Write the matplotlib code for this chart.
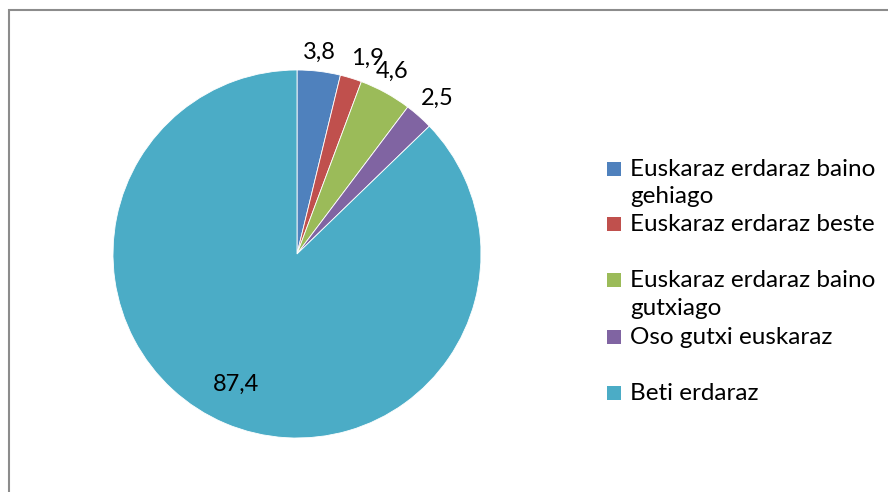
import matplotlib
matplotlib.use("Agg")
import matplotlib.pyplot as plt
from matplotlib.patches import Rectangle
import numpy as np

labels = ["Euskaraz erdaraz baino\ngehiago", "Euskaraz erdaraz beste",
          "Euskaraz erdaraz baino\ngutxiago", "Oso gutxi euskaraz", "Beti erdaraz"]
values = [3.8, 1.9, 4.6, 2.5, 87.4]
value_texts = ["3,8", "1,9", "4,6", "2,5", "87,4"]
colors = ["#4F81BD", "#C0504D", "#9BBB59", "#8064A2", "#4BACC6"]

W, H = 888, 492
plt.rcParams['font.family'] = ['Lato', 'DejaVu Sans']
fig = plt.figure(figsize=(W / 100, H / 100), dpi=100)

# border (top-left visible, rest cropped)
fig.patches.append(Rectangle((9 / W, -0.1), 1.2, 1 - 10 / H + 0.1, transform=fig.transFigure,
                             fill=False, edgecolor="#8c8c8c", linewidth=1.5))

cx, cy, r = 297, 254, 184
ax = fig.add_axes([(cx - r) / W, (H - cy - r) / H, 2 * r / W, 2 * r / H])
wedges, _ = ax.pie(values, colors=colors, startangle=90, counterclock=False,
                   wedgeprops=dict(edgecolor="white", linewidth=0.6))
ax.set_xlim(-1, 1)
ax.set_ylim(-1, 1)
ax.set_aspect("equal")
ax.axis("off")

dists = [1.10, 1.13, 1.12, 1.14, 0.78]
angle_adj = [0.6, -2.6, 1.1, -0.5, -2.1]
for w, t, d, a in zip(wedges, value_texts, dists, angle_adj):
    ang = np.deg2rad((w.theta1 + w.theta2) / 2 + a)
    ax.text(d * np.cos(ang), d * np.sin(ang), t, ha="center", va="center",
            fontsize=17, color="black", clip_on=False)

# legend
square_x = 607
text_x = 630
baselines = [175.7, 230.7, 287.3, 344, 400]
line_gap = 27.5
sq = 14
for lab, col, b in zip(labels, colors, baselines):
    fig.patches.append(Rectangle((square_x / W, (H - b) / H), sq / W, sq / H,
                                 transform=fig.transFigure, facecolor=col, edgecolor="none"))
    for i, line in enumerate(lab.split("\n")):
        fig.text(text_x / W, (H - (b + i * line_gap)) / H, line, ha="left", va="baseline",
                 fontsize=17.5, color="black")

fig.savefig("out.png", dpi=100)
